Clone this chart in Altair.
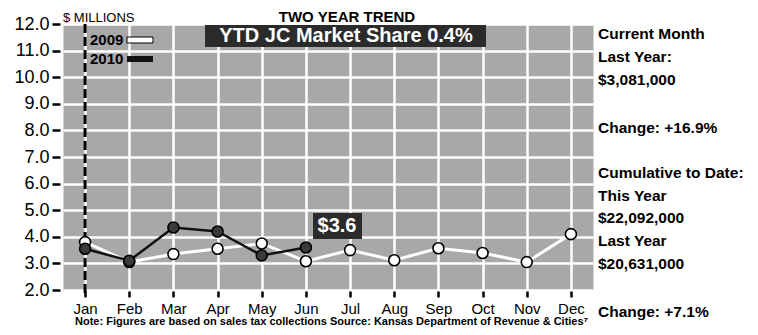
import altair as alt
import pandas as pd

months = ["Jan", "Feb", "Mar", "Apr", "May", "Jun", "Jul", "Aug", "Sep", "Oct", "Nov", "Dec"]
values_2009 = [3.8, 3.05, 3.35, 3.55, 3.75, 3.08, 3.5, 3.12, 3.57, 3.39, 3.05, 4.1]
values_2010 = [3.55, 3.1, 4.35, 4.2, 3.3, 3.6]
y_ticks = [2, 3, 4, 5, 6, 7, 8, 9, 10, 11, 12]

title_text = "TWO YEAR TREND"
unit_text = "$ MILLIONS"
share_text = "YTD JC Market Share 0.4%"
callout_text = "$3.6"
side_texts = ["Current Month", "Last Year:", "$3,081,000", "Change: +16.9%",
              "Cumulative to Date:", "This Year", "$22,092,000", "Last Year",
              "$20,631,000", "Change: +7.1%"]
note_text = "Note: Figures are based on sales tax collections  Source: Kansas Department of Revenue & Cities\u2077"

# layout (pixels relative to plot origin)
side_y = [10, 33, 56, 104, 149, 172, 194, 217, 240, 288]

SANS = "Liberation Sans, Arial, Helvetica, sans-serif"

df = pd.DataFrame(
    [{"month": m, "year": "2009", "value": v} for m, v in zip(months, values_2009)]
    + [{"month": m, "year": "2010", "value": v} for m, v in zip(months, values_2010)]
)

x_scale = alt.Scale(type="point", padding=0.5)
y_scale = alt.Scale(domain=[2, 12], nice=False, zero=False)
x_axis = alt.Axis(title=None, labelAngle=0, domain=False, ticks=True, tickColor="black",
                  tickSize=6, tickWidth=2.5, grid=True, gridColor="white", gridWidth=2.5,
                  labelFont=SANS, labelFontSize=15, labelColor="black", labelPadding=4, offset=1)
y_axis = alt.Axis(title=None, values=y_ticks, format=".1f", domain=False, tickColor="black",
                  tickSize=8, tickWidth=2.5, grid=True, gridColor="white", gridWidth=2.5,
                  labelOverlap=False, labelFont=SANS, labelFontSize=18, labelColor="black",
                  labelPadding=3, offset=3)

x_enc = alt.X("month:N", sort=months, scale=x_scale, axis=x_axis)
y_enc = alt.Y("value:Q", scale=y_scale, axis=y_axis)

base = alt.Chart(df).encode(x=x_enc, y=y_enc)

d09 = base.transform_filter(alt.datum.year == "2009")
d10 = base.transform_filter(alt.datum.year == "2010")

line09 = d09.mark_line(color="white", strokeWidth=3)
pts09 = d09.mark_point(filled=True, fill="white", stroke="black", strokeWidth=1.6, size=120, opacity=1)
line10 = d10.mark_line(color="#111111", strokeWidth=2.5)
pts10 = d10.mark_point(filled=True, fill="#3a3a3a", stroke="black", strokeWidth=1.6, size=120, opacity=1)

rule_df = pd.DataFrame({"month": ["Jan"]})
jan_rule = alt.Chart(rule_df).mark_rule(color="black", strokeWidth=3, strokeDash=[9, 4]).encode(
    x=alt.X("month:N", sort=months, scale=x_scale, axis=x_axis),
    y=alt.YDatum(12.0, scale=y_scale, axis=y_axis),
    y2=alt.Y2Datum(1.85),
)

ann = pd.DataFrame({"k": [0]})
achart = alt.Chart(ann)

def txt(text, x, y, size, weight="normal", color="black", align="left", baseline="middle"):
    return achart.mark_text(text=text, font=SANS, fontSize=size, fontWeight=weight, color=color,
                            align=align, baseline=baseline).encode(x=alt.value(x), y=alt.value(y))

def box(x1, x2, y1, y2, color, stroke=None):
    kw = {"color": color}
    if stroke:
        kw.update(stroke=stroke, strokeWidth=1)
    return achart.mark_rect(**kw).encode(x=alt.value(x1), x2=alt.value(x2),
                                          y=alt.value(y1), y2=alt.value(y2))

layers = [line09, jan_rule, line10, pts09, pts10]
layers.append(txt(title_text, 284, -7, 15, "bold", align="center"))
layers.append(txt(unit_text, 0, -6, 13))
layers.append(box(142, 423, 1, 23, "#2b2b2b"))
layers.append(txt(share_text, 283, 12, 20, "bold", color="white", align="center"))
layers.append(box(250, 299, 189, 215, "#2b2b2b"))
layers.append(txt(callout_text, 274, 202, 20, "bold", color="white", align="center"))
# legend
layers.append(txt("2009", 27, 16, 15, "bold"))
layers.append(box(64, 90, 13, 19, "white", stroke="black"))
layers.append(txt("2010", 27, 35, 15, "bold"))
layers.append(box(64, 90, 32, 38, "#111111"))
for t, yy in zip(side_texts, side_y):
    layers.append(txt(t, 535, yy, 15.5, "bold"))
layers.append(txt(note_text, 12, 301, 11, "bold", baseline="alphabetic"))

chart = alt.layer(*layers).properties(
    width=530, height=266,
    autosize=alt.AutoSizeParams(type="none"),
    padding={"left": 55, "top": 16, "right": 157, "bottom": 37},
    background="white",
).configure_view(fill="#a8a8a8", stroke="transparent")

chart.save("out.html", embed_options={"renderer": "svg", "actions": False})
